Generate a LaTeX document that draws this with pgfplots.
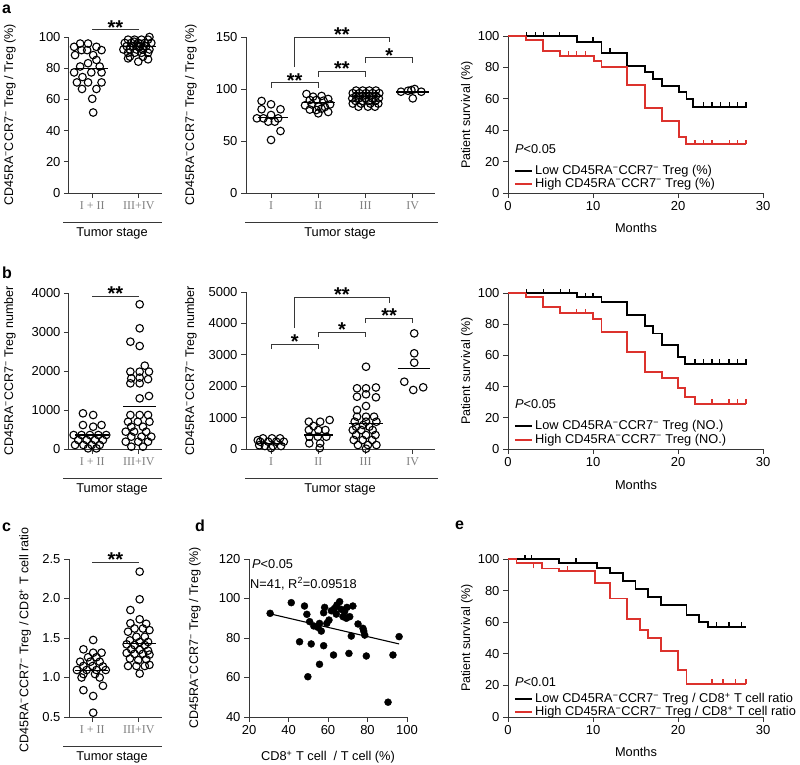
\documentclass[border=0pt]{standalone}
\usepackage{pgfplots}
\pgfplotsset{compat=1.18}
\usepackage{fontspec}
\setmainfont{Liberation Sans}
\newfontfamily\romfont{Liberation Serif}

\newcommand\fs[1]{\fontsize{#1}{#1}\selectfont}
\newcommand\cdl{CD45RA\textsuperscript{−}CCR7\textsuperscript{−}}

\definecolor{kmred}{RGB}{220,50,45}
\definecolor{axgray}{RGB}{55,55,55}

% censor tick: short upward stroke
\pgfdeclareplotmark{cens}{%
  \pgfpathmoveto{\pgfqpoint{0pt}{0pt}}%
  \pgfpathlineto{\pgfqpoint{0pt}{\pgfplotmarksize}}%
  \pgfusepathqstroke}

\tikzset{
  sig/.style={line width=1pt, axgray},
  star/.style={anchor=base, yshift=-4.5pt, inner sep=0pt, font=\fs{20}\bfseries},
  ylab/.style={rotate=90, font=\fs{12.5}},
  xlab/.style={font=\fs{12.8}},
  leg/.style={anchor=west, inner sep=0pt, font=\fs{12.8}},
}

\pgfplotsset{
  base/.style={scale only axis, anchor=south west, clip=false,
    axis lines*=left, axis line style={-, line width=1pt, axgray},
    tick style={line width=1pt, axgray}, tick align=outside,
    major tick length=5pt,
    tick label style={font=\fs{13}},
    /pgf/number format/assume math mode=true,
    /pgf/number format/1000 sep={}, scaled ticks=false},
  scat/.style={base, xmin=0.5, xmax=2.5, xtick={1,2},
    xticklabels={I + II, III+IV},
    xticklabel style={font=\romfont\fs{12}, text=gray}},
  km/.style={base, xmin=0, xmax=30, ymin=0, ymax=100,
    xtick={0,10,20,30}, ytick={0,20,...,100}},
  dot/.style={only marks, mark=o, mark size=3.8pt,
    mark options={line width=1.1pt, black}},
  meanline/.style={line width=1.2pt, black, no marks},
  kmline/.style={const plot, line width=1.8pt, no marks},
  cmark/.style={only marks, mark=cens, mark size=4.5pt,
    mark options={line width=1.2pt}},
}

\begin{document}
\begin{tikzpicture}
\path[use as bounding box] (0,0) rectangle (800pt,-764pt);

% ---------------- a (left)
\begin{axis}[scat, at={(69pt,-193pt)}, width=93pt, height=156pt,
  ymin=0, ymax=100, ytick={0,20,...,100}]
\addplot[dot] coordinates {(0.74,95.8) (0.91,95.8) (0.61,93.7) (1.09,93.7)
  (0.77,91.6) (0.89,91.6) (1.2,91.6) (0.63,88.4) (1.02,88.4) (1.09,85.3)
  (0.91,83.2) (0.74,81.1) (1.16,81.1) (0.61,77.3) (0.98,77.3) (1.2,77.3)
  (0.79,74.3) (0.67,70.9) (0.91,70.9) (1.2,70.9) (0.78,66.7) (1.09,66.7)
  (1.0,60.4) (1.02,51.6)};
\addplot[dot] coordinates {(2.23,100) (1.77,98.3) (1.91,98.3) (2.06,98.3) (2.2,98.3)
  (1.7,96.2) (1.84,96.2) (1.99,96.2) (2.13,96.2) (2.27,96.2)
  (1.74,94.1) (1.88,94.1) (2.02,94.1) (2.16,94.1)
  (1.67,92) (1.81,92) (1.95,92) (2.09,92) (2.23,92)
  (1.77,89.9) (1.91,89.9) (2.06,89.9) (2.2,89.9)
  (1.81,87.4) (2.09,87.4) (2.2,85.7) (1.77,86.3) (1.99,84.2)
  (1.95,95) (2.05,95.5) (2.1,93) (1.9,97) (2.0,93.5)};
\addplot[meanline] coordinates {(0.63,80) (1.34,80)};
\addplot[meanline] coordinates {(1.67,93.7) (2.38,93.7)};
\draw[sig] (axis cs:1,104.5) -- (axis cs:2,104.5);
\node[star] at (axis cs:1.5,104.5) {**};
\end{axis}

% ---------------- a (middle)
\begin{axis}[base, at={(246pt,-193pt)}, width=189pt, height=156pt,
  xmin=0.47, xmax=4.47, xtick={1,2,3,4}, xticklabels={I,II,III,IV},
  xticklabel style={font=\romfont\fs{12}, text=gray},
  ymin=0, ymax=150, ytick={0,50,100,150}]
\addplot[dot] coordinates {(0.8,88.5) (1,85.3) (0.8,80.5) (1.2,80.5) (0.7,71.8)
  (0.84,71.8) (1,75) (1.15,71.8) (0.94,68.6) (1.08,68.6) (1.2,59.6) (1,51)};
\addplot[dot] coordinates {(1.75,95.2) (1.89,92.6) (2.07,93.3) (2.21,90.4) (1.82,89.4)
  (1.96,89.4) (2.11,88.8) (1.72,84.3) (1.86,85.2) (2,83.3) (2.14,82.7) (2.25,85.2)
  (1.82,80.2) (1.96,79.8) (2.07,81.1) (2.21,77.9) (2,76.6)};
\addplot[dot] coordinates {(2.8,98.5) (2.94,98.5) (3.08,98.5) (3.22,98.5)
  (2.73,96) (2.87,96) (3.01,96) (3.15,96) (3.29,96)
  (2.8,93.5) (2.94,93.5) (3.08,93.5) (3.22,93.5)
  (2.72,91) (2.86,91) (3,91) (3.14,91) (3.28,91)
  (2.79,88.5) (2.93,88.5) (3.07,88.5) (3.21,88.5)
  (2.73,86) (2.9,86) (3.1,86) (3.27,86) (2.85,83) (3.05,83) (3.2,83)};
\addplot[dot] coordinates {(3.75,97.4) (3.9,98.3) (4.04,100) (4.18,97.4) (3.97,99) (4,91)};
\addplot[meanline] coordinates {(0.73,72.5) (1.35,72.5)};
\addplot[meanline] coordinates {(1.68,87) (2.35,87)};
\addplot[meanline] coordinates {(2.7,92.6) (3.34,92.6)};
\addplot[meanline] coordinates {(3.65,97.2) (4.34,97.2)};
\draw[sig] (axis cs:1,100.8) -- (axis cs:1,105.8) -- (axis cs:2,105.8) -- (axis cs:2,100.8);
\node[star] at (axis cs:1.5,105.8) {**};
\draw[sig] (axis cs:2,112) -- (axis cs:2,117) -- (axis cs:3,117) -- (axis cs:3,112);
\node[star] at (axis cs:2.5,117) {**};
\draw[sig] (axis cs:3,125) -- (axis cs:3,130) -- (axis cs:4,130) -- (axis cs:4,125);
\node[star] at (axis cs:3.5,130) {*};
\draw[sig] (axis cs:1.5,121) -- (axis cs:1.5,150) -- (axis cs:3.5,150) -- (axis cs:3.5,145);
\node[star] at (axis cs:2.5,150) {**};
\end{axis}

% ---------------- a (right, survival)
\begin{axis}[km, at={(508pt,-193pt)}, width=255pt, height=157pt]
\addplot[kmline, black] coordinates {(0,100) (8.1,96.4) (11,89.4) (14,81) (16.1,77.3)
  (17.1,72.8) (18.1,68.2) (20.1,64.1) (21,59.7) (21.8,55) (28.1,55)};
\addplot[cmark, black] coordinates {(2.2,100) (3.2,100) (4.2,100) (6.1,100) (10,96.4)
  (12,89.4) (23,55) (24,55) (25,55) (26.1,55) (27,55) (28,55)};
\addplot[kmline, kmred] coordinates {(0,100) (2.1,97.5) (4.1,90.6) (6.1,87.3) (10.1,84.3)
  (11,80.5) (14,68.8) (16.1,54) (18.1,46) (20.1,35.9) (20.9,31.2) (28,31.2)};
\addplot[cmark, kmred] coordinates {(7.1,87.3) (8.1,87.3) (9.1,87.3) (22,31.2) (23,31.2)
  (24,31.2) (26.1,31.2) (27,31.2) (28,31.2)};
\node[leg] at (rel axis cs:0.027,0.28) {\textit{P}<0.05};
\draw[black, line width=1.8pt] (rel axis cs:0.027,0.139) -- (rel axis cs:0.094,0.139);
\draw[kmred, line width=1.8pt] (rel axis cs:0.027,0.059) -- (rel axis cs:0.094,0.059);
\node[leg] at (rel axis cs:0.106,0.139) {Low \cdl\ Treg (\%)};
\node[leg] at (rel axis cs:0.106,0.059) {High \cdl\ Treg (\%)};
\end{axis}

% ---------------- b (left)
\begin{axis}[scat, at={(69pt,-449pt)}, width=93pt, height=156pt,
  ymin=0, ymax=4000, ytick={0,1000,...,4000}]
\addplot[dot] coordinates {(0.8,915) (1.02,872) (0.8,615) (1.02,572) (1.2,615)
  (0.6,359) (0.77,359) (0.95,359) (1.13,359) (1.3,359)
  (0.7,231) (0.88,231) (1.06,231) (1.23,231)
  (0.63,103) (0.81,103) (0.99,103) (1.16,103) (0.91,17) (1.09,17)};
\addplot[dot] coordinates {(2.02,3710) (2.02,3095) (1.82,2752) (2.02,2641) (2.13,2137)
  (1.82,1983) (2.02,1983) (2.22,1983) (1.84,1812) (2.02,1830) (2.2,1790)
  (1.82,1684) (2.02,1684) (2.02,1299) (2.22,1359)
  (1.82,872) (2.02,872) (2.2,872) (1.77,700) (1.98,700) (2.23,700)
  (1.84,572) (2.09,572) (1.72,444) (1.9,444) (2.16,444)
  (1.84,316) (2.06,316) (2.27,316) (1.72,188) (1.99,188) (2.2,188)
  (1.84,60) (2.09,60)};
\addplot[meanline] coordinates {(0.63,359) (1.35,359)};
\addplot[meanline] coordinates {(1.67,1085) (2.38,1085)};
\draw[sig] (axis cs:1,3923) -- (axis cs:2,3923);
\node[star] at (axis cs:1.5,3923) {**};
\end{axis}

% ---------------- b (middle)
\begin{axis}[base, at={(246pt,-449pt)}, width=189pt, height=157pt,
  xmin=0.47, xmax=4.47, xtick={1,2,3,4}, xticklabels={I,II,III,IV},
  xticklabel style={font=\romfont\fs{12}, text=gray},
  ymin=0, ymax=5000, ytick={0,1000,...,5000}]
\addplot[dot] coordinates {(0.83,340) (1.02,340) (1.19,340) (0.77,233) (0.94,233)
  (1.11,233) (1.27,233) (0.87,96) (1.04,96) (1.21,96) (0.72,280) (0.75,120) (1.0,30)};
\addplot[dot] coordinates {(1.8,870) (2.04,870) (2.24,924) (1.9,732) (1.8,605) (2.0,605)
  (2.15,605) (1.81,392) (1.99,392) (2.17,392) (1.81,180) (2.04,180) (2.03,30)};
\addplot[dot] coordinates {(3.01,2620) (2.82,1933) (3.01,1933) (3.22,1960) (2.82,1666)
  (3.01,1742) (3.22,1646) (2.82,1242) (3.01,1370) (2.82,1029) (3.01,1029) (3.18,1029)
  (2.95,764) (2.77,870) (3.01,870) (3.23,870) (2.8,711) (3.08,711) (2.73,605)
  (2.91,605) (3.15,605) (2.8,446) (3.01,446) (3.21,446) (2.75,287) (2.94,287)
  (3.14,287) (2.84,127) (3.05,127) (3.23,127) (3.01,10)};
\addplot[dot] coordinates {(4.03,3683) (4.03,3048) (4.03,2750) (3.82,2143) (4.01,1880) (4.22,1965)};
\addplot[meanline] coordinates {(0.7,180) (1.3,180)};
\addplot[meanline] coordinates {(1.7,446) (2.32,446)};
\addplot[meanline] coordinates {(2.66,818) (3.36,818)};
\addplot[meanline] coordinates {(3.68,2570) (4.36,2570)};
\draw[sig] (axis cs:1,3184) -- (axis cs:1,3344) -- (axis cs:2,3344) -- (axis cs:2,3184);
\node[star] at (axis cs:1.5,3344) {*};
\draw[sig] (axis cs:2,3566) -- (axis cs:2,3726) -- (axis cs:3,3726) -- (axis cs:3,3566);
\node[star] at (axis cs:2.5,3726) {*};
\draw[sig] (axis cs:3,4012) -- (axis cs:3,4172) -- (axis cs:4,4172) -- (axis cs:4,4012);
\node[star] at (axis cs:3.5,4172) {**};
\draw[sig] (axis cs:1.5,3853) -- (axis cs:1.5,4840) -- (axis cs:3.5,4840) -- (axis cs:3.5,4650);
\node[star] at (axis cs:2.5,4840) {**};
\end{axis}

% ---------------- b (right, survival)
\begin{axis}[km, at={(508pt,-449pt)}, width=255pt, height=156pt]
\addplot[kmline, black] coordinates {(0,100) (8.1,97.2) (11,94.4) (14,85.9) (16.1,78.8)
  (17.1,74.1) (18.1,66.7) (20,59.2) (20.8,54.5) (28.1,54.5)};
\addplot[cmark, black] coordinates {(2.2,100) (4.2,100) (6.2,100) (7.2,100) (9.1,97.2)
  (10,97.2) (22,54.5) (23,54.5) (24,54.5) (24.9,54.5) (26,54.5) (27,54.5) (28,54.5)};
\addplot[kmline, kmred] coordinates {(0,100) (2.1,97.6) (4.1,90.8) (6.1,87) (10,83.3)
  (11,75.2) (14,62.4) (16.1,49.6) (18.1,45.3) (20,38.9) (20.8,33.5) (22,29) (28,29)};
\addplot[cmark, kmred] coordinates {(8.1,87) (9.1,87) (24,29) (26,29) (27,29) (28,29)};
\node[leg] at (rel axis cs:0.027,0.285) {\textit{P}<0.05};
\draw[black, line width=1.8pt] (rel axis cs:0.027,0.145) -- (rel axis cs:0.094,0.145);
\draw[kmred, line width=1.8pt] (rel axis cs:0.027,0.058) -- (rel axis cs:0.094,0.058);
\node[leg] at (rel axis cs:0.106,0.145) {Low \cdl\ Treg (NO.)};
\node[leg] at (rel axis cs:0.106,0.058) {High \cdl\ Treg (NO.)};
\end{axis}

% ---------------- c
\begin{axis}[scat, at={(69pt,-717pt)}, width=93pt, height=158pt,
  ymin=0.5, ymax=2.5, ytick={0.5,1.0,...,2.5},
  yticklabel style={/pgf/number format/.cd, fixed, fixed zerofill, precision=1}]
\addplot[dot] coordinates {(1.02,1.475) (0.81,1.357) (1.02,1.314) (1.2,1.314) (0.91,1.256)
  (1.09,1.256) (0.74,1.2) (0.96,1.2) (1.16,1.2) (0.81,1.146) (1.01,1.146) (1.23,1.14)
  (0.67,1.095) (0.88,1.095) (1.09,1.095) (1.29,1.095) (0.81,1.044) (1.06,1.044)
  (0.77,1.0) (1.16,1.0) (1.23,0.895) (0.81,0.84) (1.02,0.766) (1.02,0.555)};
\addplot[dot] coordinates {(2.02,2.34) (2.02,1.99) (1.82,1.854) (2.02,1.737) (1.82,1.686)
  (2.16,1.68) (1.91,1.62) (2.09,1.62) (1.77,1.58) (2.23,1.6) (1.95,1.516) (2.13,1.516)
  (1.81,1.47) (2.02,1.45) (2.2,1.45) (1.74,1.42) (1.91,1.41) (2.13,1.41) (1.84,1.357)
  (2.02,1.35) (2.2,1.34) (1.74,1.31) (1.91,1.30) (2.09,1.30) (2.23,1.29) (1.81,1.24)
  (1.99,1.22) (2.16,1.23) (1.77,1.146) (1.95,1.146) (2.13,1.146) (2.23,1.16) (2.02,1.05)};
\addplot[meanline] coordinates {(0.63,1.087) (1.34,1.087)};
\addplot[meanline] coordinates {(1.67,1.43) (2.38,1.43)};
\draw[sig] (axis cs:1,2.46) -- (axis cs:2,2.46);
\node[star] at (axis cs:1.5,2.46) {**};
\end{axis}

% ---------------- d (scatter)
\begin{axis}[base, at={(249pt,-717pt)}, width=158pt, height=158pt,
  xmin=20, xmax=100, ymin=40, ymax=120, xtick={20,40,...,100}, ytick={40,60,...,120}]
\addplot[only marks, mark=*, mark size=3.5pt, black] coordinates {
  (30.7,92.5) (41.4,97.9) (48.1,96.2) (49.3,92.0) (50.7,88.3) (52.8,86.1) (54.9,85.4)
  (55.7,87.4) (56.6,83.5) (58.3,95.5) (57.8,92.8) (59.4,87.4) (60.5,89.1)
  (61.7,93.8) (63.3,95.0) (64.5,96.7) (64.2,92.1) (65.9,98.4) (66.7,94.5) (67.6,90.8)
  (68.4,93.3) (69.6,95.5) (71.0,90.8) (72.6,96.2) (75.2,87.1) (77.7,84.9)
  (78.6,81.5) (71.8,81.0) (45.6,78.1) (51.5,77.0) (57.8,76.1) (62.8,71.4) (70.6,72.2)
  (79.4,70.9) (55.7,66.7) (49.8,60.4) (92.9,71.4) (96.0,80.7) (90.4,47.5) (69.3,90.0)
  (78.1,83.5)};
\addplot[no marks, black, line width=1.1pt] coordinates {(30,92.4) (96,77.0)};
\node[leg] at (axis cs:21.5,117.5) {\textit{P}<0.05};
\node[leg] at (axis cs:20.5,107.5) {N=41, R\textsuperscript{2}=0.09518};
\end{axis}

% ---------------- e (survival)
\begin{axis}[km, at={(508pt,-717pt)}, width=255pt, height=158pt]
\addplot[kmline, black] coordinates {(0,100) (6,97.5) (10.5,94.5) (12,91) (13.5,86)
  (15,81) (16.5,76) (18,71) (21,64.5) (22.5,60) (23.5,57) (28,57)};
\addplot[cmark, black] coordinates {(2,100) (2.8,100) (8,97.5) (24.5,57) (26,57) (27.5,57)};
\addplot[kmline, kmred] coordinates {(0,100) (1,97.5) (4,94) (6,92.5) (10.2,85) (12,75)
  (14,62) (15.5,55) (16.5,50) (18,42) (20,30) (21,21) (28,21)};
\addplot[cmark, kmred] coordinates {(3,94) (7,92.5) (24,21) (25.3,21) (26.8,21) (28,21)};
\node[leg] at (rel axis cs:0.027,0.22) {\textit{P}<0.01};
\draw[black, line width=1.8pt] (rel axis cs:0.027,0.112) -- (rel axis cs:0.094,0.112);
\draw[kmred, line width=1.8pt] (rel axis cs:0.027,0.032) -- (rel axis cs:0.094,0.032);
\node[leg] at (rel axis cs:0.106,0.112) {Low \cdl\ Treg / CD8\textsuperscript{+} T cell ratio};
\node[leg] at (rel axis cs:0.106,0.032) {High \cdl\ Treg / CD8\textsuperscript{+} T cell ratio};
\end{axis}

% ---------------- labels and decorations
\foreach \x/\y/\l in {2/13/a, 2/278/b, 2/531/c, 195/531/d, 455/529/e}
  \node[anchor=base west, inner sep=0pt, font=\fs{16}\bfseries] at (\x pt,-\y pt) {\l};

\node[ylab] at (10pt,-115pt) {\cdl\ Treg / Treg (\%)};
\node[ylab] at (191pt,-115pt) {\cdl\ Treg / Treg (\%)};
\node[ylab] at (467pt,-115pt) {Patient survival (\%)};
\node[ylab] at (10pt,-371pt) {\cdl\ Treg number};
\node[ylab] at (191pt,-371pt) {\cdl\ Treg number};
\node[ylab] at (467pt,-371pt) {Patient survival (\%)};
\node[ylab] at (25pt,-640pt) {\cdl\ Treg / CD8\textsuperscript{+} T cell ratio};
\node[ylab] at (195pt,-638pt) {\cdl\ Treg / Treg (\%)};
\node[ylab] at (467pt,-638pt) {Patient survival (\%)};

\foreach \y in {222,478,746} \draw[line width=1pt, axgray] (63pt,-\y pt) -- (162pt,-\y pt);
\foreach \y in {222,478} \draw[line width=1pt, axgray] (245pt,-\y pt) -- (438pt,-\y pt);
\node[xlab] at (112pt,-233pt) {Tumor stage};
\node[xlab] at (340pt,-233pt) {Tumor stage};
\node[xlab] at (112pt,-489pt) {Tumor stage};
\node[xlab] at (340pt,-489pt) {Tumor stage};
\node[xlab] at (112pt,-757pt) {Tumor stage};
\node[xlab] at (636pt,-228pt) {Months};
\node[xlab] at (636pt,-485pt) {Months};
\node[xlab] at (636pt,-752pt) {Months};
\node[xlab] at (328pt,-757pt) {CD8\textsuperscript{+} T cell\ \ / T cell (\%)};
\end{tikzpicture}
\end{document}
